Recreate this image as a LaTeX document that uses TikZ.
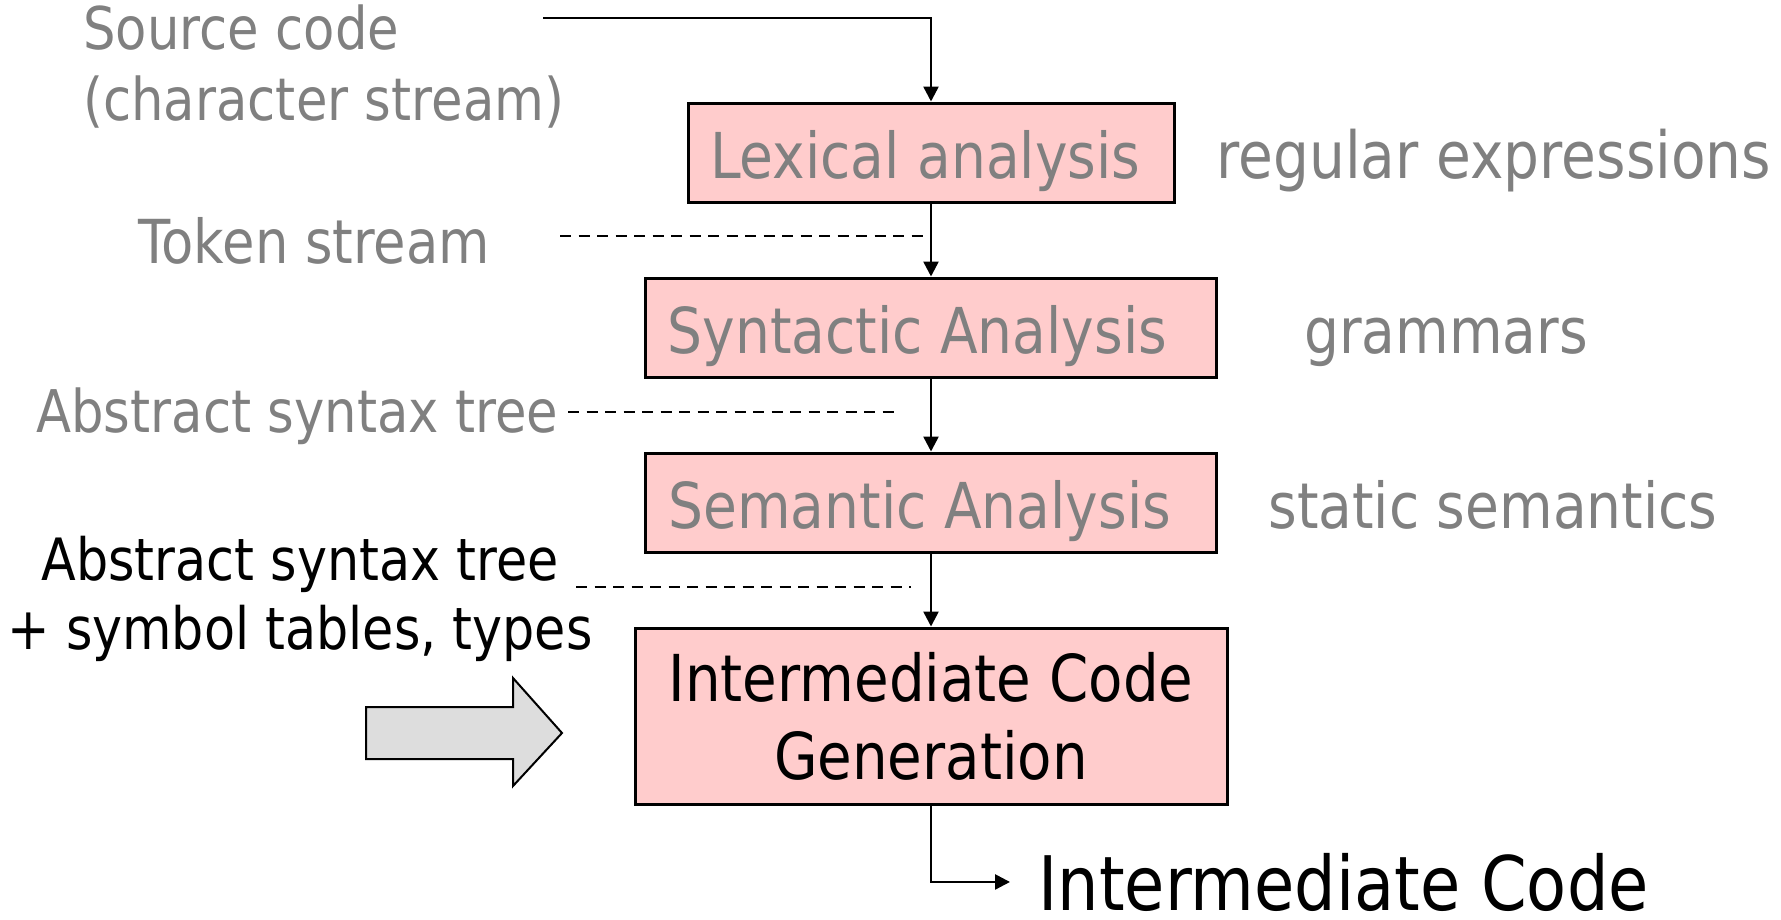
\documentclass[tikz,border=0pt]{standalone}
\usepackage{fontspec}
\setmainfont{DejaVu Sans}[FakeStretch=0.87]
\usetikzlibrary{arrows.meta,positioning}
\definecolor{phasefill}{RGB}{255,204,204}
\definecolor{notegray}{RGB}{128,128,128}
\definecolor{bigfill}{RGB}{221,221,221}

\begin{document}
\begin{tikzpicture}[
    x=0.2mm, y=-0.2mm,
    node distance=14.6mm,
    phase/.style={
      rectangle,
      draw=black,
      line width=0.6mm,
      fill=phasefill,
      text=notegray,
      inner sep=0pt,
      font=\fontsize{36}{44.4}\selectfont,
      minimum height=19.8mm
    },
    oneline/.style={text height=10.2mm, text depth=0pt},
    note/.style={text=notegray, inner sep=0pt, font=\fontsize{33.5}{40.4}\selectfont},
    hint/.style={text=notegray, inner sep=0pt, anchor=base west, font=\fontsize{36}{44}\selectfont},
    arr/.style={-{Triangle[length=3mm,width=3mm]}, line width=0.5mm},
    tie/.style={line width=0.5mm, dash pattern=on 2.2mm off 1.5mm}
  ]
    \useasboundingbox (0,0) rectangle (1781,919);

    % phases
    \node[phase, oneline, minimum width=97.2mm] (lex) at (931,152.5) {Lexical analysis\hspace*{2.3mm}};
    \node[phase, oneline, minimum width=114.2mm, below=of lex] (syn) {Syntactic Analysis\hspace*{5.5mm}};
    \node[phase, oneline, minimum width=114.2mm, below=of syn] (sem) {Semantic Analysis\hspace*{4.5mm}};
    \node[phase, text=black, align=center, minimum width=118.4mm, minimum height=35.2mm,
          font=\fontsize{36.8}{44.4}\selectfont, below=of sem] (icg) {Intermediate Code\\Generation};

    % what flows between them
    \node[note, align=left, anchor=north west] (src) at (83,4) {Source code\\(character stream)};
    \node[note, anchor=base west, font=\fontsize{34.5}{40}\selectfont] (tok) at (138,263) {Token stream};
    \node[note, anchor=base west] (ast) at (36,432) {Abstract syntax tree};
    \node[note, text=black, align=center, anchor=north, font=\fontsize{33.2}{39.3}\selectfont] (annot) at (300,536)
      {Abstract syntax tree\\+ symbol tables, types};

    % formalisms
    \node[hint, font=\fontsize{37}{44}\selectfont] (regex) at (1216,178) {regular expressions};
    \node[hint] (gram) at (1304,353) {grammars};
    \node[hint] (stat) at (1268,528) {static semantics};

    \node[inner sep=0pt, anchor=base west, font=\fontsize{42.8}{50}\selectfont] (out) at (1038,910) {Intermediate Code};

    \coordinate (in) at (543,18);
    \coordinate (tokL) at (560,236);
    \coordinate (tokR) at (926,236);
    \coordinate (astL) at (568,412);
    \coordinate (astR) at (897,412);
    \coordinate (annL) at (576,587);
    \coordinate (annR) at (911,587);

    \draw[arr] (in) -| (lex);
    \draw[arr] (lex) -- (syn);
    \draw[arr] (syn) -- (sem);
    \draw[arr] (sem) -- (icg);
    \draw[arr, shorten >=5.6mm] (icg) |- (out);

    \draw[tie] (tokL) -- (tokR);
    \draw[tie] (astL) -- (astR);
    \draw[tie] (annL) -- (annR);

    % big arrow into the generator
    \draw[line width=0.4mm, fill=bigfill]
      (366,707) -- (513,707) -- (513,678) -- (562,733) -- (513,786) -- (513,759) -- (366,759) -- cycle;
  \end{tikzpicture}
\end{document}
